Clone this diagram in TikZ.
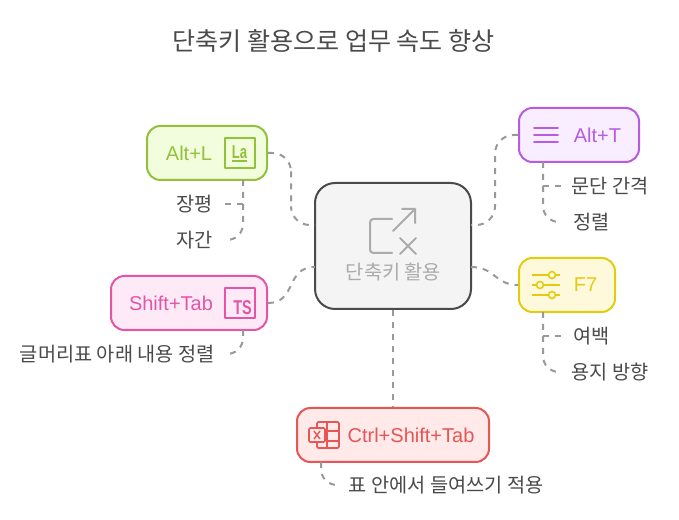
\documentclass[tikz,border=0pt]{standalone}
\usepackage{fontspec}
\setmainfont{Noto Sans CJK KR}
\newfontfamily\keyfont{Liberation Sans}
\definecolor{inkgray}{HTML}{4A4A4A}
\definecolor{linkgray}{HTML}{999999}
\definecolor{hubgray}{HTML}{ABABAB}
\definecolor{hubfill}{HTML}{F4F4F4}
\definecolor{altlline}{HTML}{94C13A}
\definecolor{altlfill}{HTML}{F2FDDE}
\definecolor{shiftline}{HTML}{E455A8}
\definecolor{shiftfill}{HTML}{FDEAF6}
\definecolor{altpline}{HTML}{B95BE0}
\definecolor{altpfill}{HTML}{F9EEFF}
\definecolor{fline}{HTML}{E3CC10}
\definecolor{ffill}{HTML}{FFF9DC}
\definecolor{ctrlline}{HTML}{E85555}
\definecolor{ctrlfill}{HTML}{FFE9E9}

\begin{document}
\begin{tikzpicture}[x=0.75pt,y=-0.75pt,
    keybox/.style n args={4}{draw=#1, fill=#2, line width=1.5pt, rounded corners=10pt,
      minimum width=#3*0.75pt, minimum height=#4*0.75pt, inner sep=0pt},
    keytext/.style={font=\keyfont\fontsize{15}{18}\selectfont, text=#1, inner sep=0pt},
    link/.style={draw=linkgray, line width=1.5pt, dash pattern=on 4.5pt off 4.5pt},
    leafl/.style={anchor=east, inner xsep=#1, inner ysep=0pt, text=inkgray, font=\fontsize{14.8}{18}\selectfont},
    leafr/.style={anchor=west, inner xsep=#1, inner ysep=0pt, text=inkgray, font=\fontsize{14.8}{18}\selectfont},
    icon/.style={line width=1.2pt, line cap=round, line join=round}]
  \useasboundingbox (0,0) rectangle (679,520);

  \node[inner sep=0pt, text=inkgray, font=\fontsize{18.8}{22}\selectfont] (title) at (333.5,41.5) {단축키 활용으로 업무 속도 향상};

  \node[draw=inkgray, fill=hubfill, line width=1.5pt, rounded corners=15pt,
    minimum width=117pt, minimum height=94.5pt, inner sep=0pt] (hub) at (393,246) {};
  \node[inner sep=0pt, text=hubgray, font=\fontsize{14.8}{18}\selectfont] (hubtext) at (393.5,272.5) {단축키 활용};
  \draw[hubgray, line width=1.5pt, line cap=round, line join=round, rounded corners=2.5pt]
    (392,219) -- (370,219) -- (370,253) -- (392,253);
  \draw[hubgray, line width=1.5pt, line cap=round, line join=round]
    (393,231) -- (415,209) (402,209) -- (415,209) -- (415,223)
    (400,238) -- (416,254) (416,238) -- (400,254);

  \node[keybox={altlline}{altlfill}{120}{54}] (altl) at (207,153) {};
  \node[keybox={shiftline}{shiftfill}{156}{54}] (shift) at (189,303) {};
  \node[keybox={altpline}{altpfill}{120}{54}] (altp) at (579,135) {};
  \node[keybox={fline}{ffill}{96}{54}] (fkey) at (567,285) {};
  \node[keybox={ctrlline}{ctrlfill}{192}{54}] (ctrl) at (393,435) {};

  \node[keytext=altlline] (altltext) at (189,153) {Alt+L};
  \node[keytext=shiftline] (shifttext) at (171,303) {Shift+Tab};
  \node[keytext=altpline] (altptext) at (597.5,135) {Alt+T};
  \node[keytext=fline] (fkeytext) at (585.5,285) {F7};
  \node[keytext=ctrlline] (ctrltext) at (411,435) {Ctrl+Shift+Tab};

  % icons
  \draw[altlline, icon] (225,138) rectangle (255,168);
  \node[inner sep=0pt, text=altlline, xscale=0.7, transform shape, font=\keyfont\bfseries\fontsize{14}{16}\selectfont] (altlicon) at (239.5,152.5) {La};
  \draw[altlline, line width=1pt] (232,161) -- (247,161);
  \draw[shiftline, icon] (225,288) rectangle (255,318);
  \node[inner sep=0pt, text=shiftline, xscale=0.72, transform shape, font=\keyfont\bfseries\fontsize{15}{18}\selectfont] (shifticon) at (242.5,308) {TS};
  \foreach \y in {128,135,142} {
    \draw[altpline, icon] (534,\y) -- (558,\y);
  }
  \foreach \y/\c in {275/552,285/540,295/552} {
    \draw[fline, line width=1.2pt] (532,\y) -- (560,\y);
    \draw[fline, line width=1.2pt, fill=ffill] (\c,\y) circle (3.5);
  }
  \draw[ctrlline, icon, rounded corners=1pt] (317,422) rectangle (339,448);
  \draw[ctrlline, icon] (327,422) -- (327,448) (327,431) -- (339,431) (327,441) -- (339,441);
  \draw[ctrlline, icon, fill=ctrlfill, rounded corners=1pt] (309,428) rectangle (325,442);
  \draw[ctrlline, line width=1pt] (314,431) -- (320,439) (320,431) -- (314,439);

  \node[leafl=9pt] (jangpyeong) at (225,204) {장평};
  \node[leafl=9pt] (jagan) at (225,240) {자간};
  \node[leafl=7.5pt] (gulmeori) at (225,354) {글머리표 아래 내용 정렬};
  \node[leafr=7.5pt] (gangyeok) at (561,186) {문단 간격};
  \node[leafr=9pt] (jeongnyeol) at (561,222) {정렬};
  \node[leafr=9pt] (yeobaek) at (561,336) {여백};
  \node[leafr=7.5pt] (yongji) at (561,372) {용지 방향};
  \node[leafr=7pt] (deulyeo) at (339,485) {표 안에서 들여쓰기 적용};

  \coordinate (hubnw) at (315,225);
  \coordinate (hubsw) at (315,267);
  \coordinate (hubne) at (471,225);
  \coordinate (hubse) at (471,267);
  \coordinate (altlfoot) at (243,180);
  \coordinate (shiftfoot) at (243,330);
  \coordinate (altpfoot) at (543,162);
  \coordinate (fkeyfoot) at (543,312);
  \coordinate (ctrlfoot) at (321,462);

  \draw[link, rounded corners=14pt] (altl.east) -| (291,189) |- (hubnw);
  \draw[link] (shift.east) .. controls (297,303) and (285,267) .. (hubsw);
  \draw[link, rounded corners=14pt] (altp.west) -| (495,180) |- (hubne);
  \draw[link] (hubse) .. controls (495,267) and (495,285) .. (fkey.west);
  \draw[link] (hub.south) -- (ctrl.north);

  \draw[link] (altlfoot) |- (jangpyeong.east);
  \draw[link, rounded corners=12pt] (altlfoot) |- (jagan.east);
  \draw[link, rounded corners=12pt] (shiftfoot) |- (gulmeori.east);
  \draw[link] (altpfoot) |- (gangyeok.west);
  \draw[link, rounded corners=12pt] (altpfoot) |- (jeongnyeol.west);
  \draw[link] (fkeyfoot) |- (yeobaek.west);
  \draw[link, rounded corners=12pt] (fkeyfoot) |- (yongji.west);
  \draw[link, rounded corners=12pt] (ctrlfoot) |- (deulyeo.west);
\end{tikzpicture}
\end{document}
